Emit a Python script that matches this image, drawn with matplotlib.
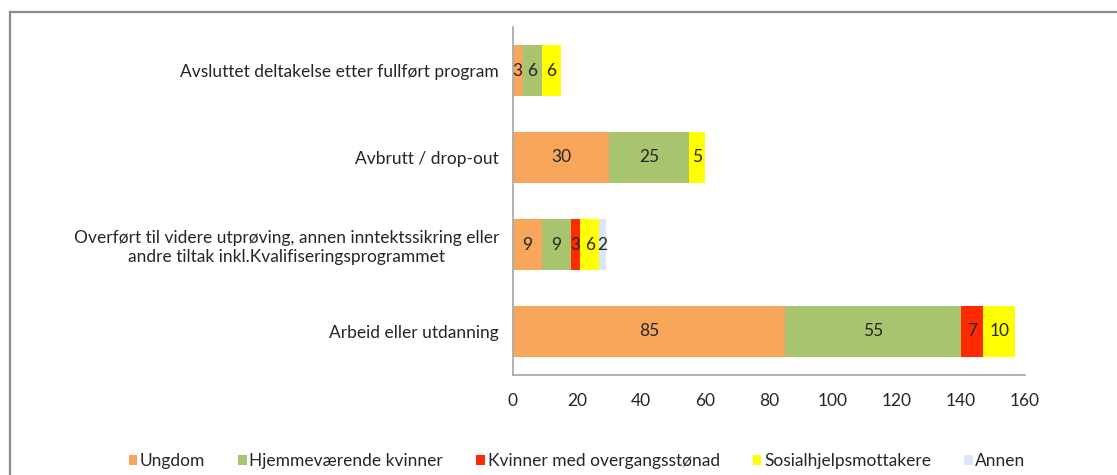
import matplotlib
matplotlib.use("Agg")
import matplotlib.pyplot as plt
from matplotlib.lines import Line2D
import numpy as np

categories = [
    "Avsluttet deltakelse etter fullført program",
    "Avbrutt / drop-out",
    "Overført til videre utprøving, annen inntektssikring eller\nandre tiltak inkl.Kvalifiseringsprogrammet",
    "Arbeid eller utdanning",
]
series_names = ["Ungdom", "Hjemmeværende kvinner", "Kvinner med overgangsstønad",
                "Sosialhjelpsmottakere", "Annen"]
ungdom = [3, 30, 9, 85]
hjemme = [6, 25, 9, 55]
kvinner = [0, 0, 3, 7]
sosial = [6, 5, 6, 10]
annen = [0, 0, 2, 0]
colors = ["#F8A65B", "#A9C46E", "#FF2A00", "#FFFF00", "#DCE6F8"]
xticks = [0, 20, 40, 60, 80, 100, 120, 140, 160]

plt.rcParams['font.family'] = ['Lato', 'DejaVu Sans']
txtcol = "#262626"
fs = 12.5

fig = plt.figure(figsize=(11.17, 4.75), dpi=100)
ax = fig.add_axes([513/1117, 1-375/475, (1025-513)/1117, (375-27)/475])

data = [ungdom, hjemme, kvinner, sosial, annen]
y = np.arange(len(categories))[::-1]
left = np.zeros(len(categories))
for name, vals, c in zip(series_names, data, colors):
    vals = np.array(vals, dtype=float)
    bars = ax.barh(y, vals, left=left, height=0.575, color=c, label=name)
    for b, v in zip(bars, vals):
        if v > 0:
            ax.text(b.get_x() + b.get_width()/2, b.get_y() + b.get_height()/2,
                    f"{int(v)}", ha="center", va="center", fontsize=fs, color=txtcol)
    left += vals

ax.set_xlim(0, 160)
ax.set_ylim(-0.5, 3.5)
ax.set_xticks(xticks)
ax.set_xticklabels([str(t) for t in xticks])
ax.set_yticks(y)
ax.set_yticklabels(categories, multialignment="center")
ax.tick_params(axis="both", length=0, labelsize=fs, labelcolor=txtcol)
ax.tick_params(axis="y", pad=10)
ax.tick_params(axis="x", pad=13)
for s in ["top", "right"]:
    ax.spines[s].set_visible(False)
for s in ["left", "bottom"]:
    ax.spines[s].set_color("#A6A6A6")
    ax.spines[s].set_linewidth(1.2)

leg = fig.legend(loc="center", bbox_to_anchor=(577/1117, 1-461/475), ncol=5, frameon=False,
                 handlelength=0.5, handleheight=0.5, handletextpad=0.15,
                 columnspacing=1.9, fontsize=fs)
for t in leg.get_texts():
    t.set_color(txtcol)

# outer border (cropped chart frame)
fig.add_artist(Line2D([10/1117, 1], [1-12/475, 1-12/475], color="#8C8C8C", lw=1.6,
                      transform=fig.transFigure))
fig.add_artist(Line2D([10/1117, 10/1117], [0, 1-12/475], color="#8C8C8C", lw=1.6,
                      transform=fig.transFigure))

fig.savefig("out.png", dpi=100)
